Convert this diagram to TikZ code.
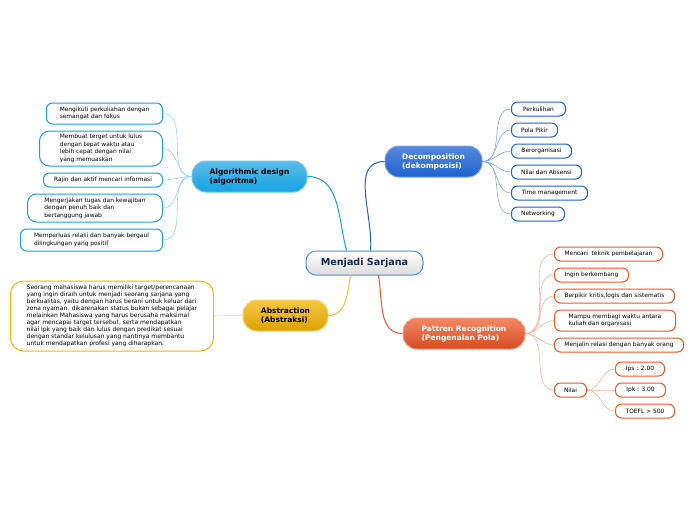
\documentclass[tikz,border=0pt]{standalone}
\usepackage{fontspec}
\setmainfont{DejaVu Sans}
\usetikzlibrary{positioning}
\definecolor{rootline}{HTML}{4A8FD8}
\definecolor{roottext}{HTML}{1B2A4E}
\definecolor{decblue}{HTML}{1E62D0}
\definecolor{algcyan}{HTML}{14A2E2}
\definecolor{absyel}{HTML}{F4B400}
\definecolor{patred}{HTML}{EE5424}
\tikzset {
    topic/.style={rounded corners=14pt, minimum height=31pt, inner xsep=14pt,
        align=left, line width=1pt, font=\fontsize{7.5}{9}\selectfont\bfseries},
    leaf/.style={draw, fill=white, line width=1pt, rounded corners=6pt,
        minimum height=14pt, inner xsep=9pt, inner ysep=2.5pt, align=left,
        font=\fontsize{5.9}{7.6}\selectfont},
    link/.style={line width=0.6pt}
}

\begin{document}
\begin{tikzpicture}[x=1pt, y=1pt]
    \useasboundingbox (0,0) rectangle (696,-520);

    % central topic
    \node[draw=rootline, line width=1pt, rounded corners=10pt, top color=white,
        bottom color=gray!28, minimum width=117pt, minimum height=24pt,
        text=roottext, font=\fontsize{9.6}{11}\selectfont\bfseries] (root) at (364.5,-263) {Menjadi Sarjana};

    % main topics
    \node[topic, draw=decblue!60!white, top color=decblue!75!white, bottom color=decblue,
        text=white, minimum width=97pt] (dec) at (433.5,-161.5) {Decomposition\\(dekomposisi)};
    \node[topic, draw=algcyan!60!white, top color=algcyan!70!white, bottom color=algcyan,
        minimum width=115pt] (alg) at (249.5,-176.5) {Algorithmic design\\(algoritma)};
    \node[topic, draw=absyel!60!white, top color=absyel!75!white, bottom color=absyel!90!black,
        minimum width=85pt] (abs) at (285.5,-315.5) {Abstraction\\(Abstraksi)};
    \node[topic, draw=patred!60!white, top color=patred!70!white, bottom color=patred!90!black,
        text=white, minimum width=122pt] (pat) at (464,-333.5) {Pattren Recognition\\(Pengenalan Pola)};

    % decomposition
    \node[leaf, draw=decblue, anchor=west, minimum width=54pt] (d1) at (511,-109) {Perkulihan};
    \node[leaf, draw=decblue, anchor=west, minimum width=46pt] (d2) at (511,-130) {Pola Pikir};
    \node[leaf, draw=decblue, anchor=west, minimum width=60pt] (d3) at (511,-151) {Berorganisasi};
    \node[leaf, draw=decblue, anchor=west, minimum width=70pt] (d4) at (511,-172) {Nilai dan Absensi};
    \node[leaf, draw=decblue, anchor=west, minimum width=76pt] (d5) at (511,-193) {Time management};
    \node[leaf, draw=decblue, anchor=west, minimum width=53pt] (d6) at (511,-214) {Networking};

    % algorithmic design
    \node[leaf, draw=algcyan, anchor=east, minimum width=116pt, minimum height=21pt] (a1) at (163,-113.5)
        {Mengikuti perkuliahan dengan\\semangat dan fokus};
    \node[leaf, draw=algcyan, anchor=east, minimum width=123pt, minimum height=35pt, rounded corners=10pt] (a2) at (163,-148.5)
        {Membuat terget untuk lulus\\dengan tepat waktu atau\\lebih cepat dengan nilai\\yang memuaskan};
    \node[leaf, draw=algcyan, anchor=east, minimum width=119pt] (a3) at (163,-180)
        {Rajin dan aktif mencari informasi};
    \node[leaf, draw=algcyan, anchor=east, minimum width=135pt, minimum height=28pt, rounded corners=9pt] (a4) at (163,-208)
        {Mengerjakan tugas dan kewajiban\\dengan penuh baik dan\\bertanggung jawab};
    \node[leaf, draw=algcyan, anchor=east, minimum width=142pt, minimum height=22pt] (a5) at (163,-240)
        {Memperluas relasi dan banyak bergaul\\dilingkungan yang positif};

    % abstraction
    \node[leaf, draw=absyel, anchor=east, minimum width=203pt, minimum height=70pt,
        rounded corners=13pt, font=\fontsize{6}{6.95}\selectfont] (b1) at (214,-316)
        {Seorang mahasiswa harus memiliki target/perencanaan\\
         yang ingin diraih untuk menjadi seorang sarjana yang\\
         berkualitas, yaitu dengan harus berani untuk keluar dari\\
         zona nyaman. dikarenakan status bukan sebagai pelajar\\
         melainkan Mahasiswa yang harus berusaha maksimal\\
         agar mencapai target tersebut, serta mendapatkan\\
         nilai Ipk yang baik dan lulus dengan predikat sesuai\\
         dengan standar kelulusan yang nantinya membantu\\
         untuk mendapatkan profesi yang diharapkan.};

    % pattern recognition
    \node[leaf, draw=patred, anchor=west, minimum width=108pt] (p1) at (554,-254) {Mencari~ teknik pembelajaran};
    \node[leaf, draw=patred, anchor=west, minimum width=74pt] (p2) at (554,-275) {Ingin berkembang};
    \node[leaf, draw=patred, anchor=west, minimum width=120pt] (p3) at (554,-296) {Berpikir kritis,logis dan sistematis};
    \node[leaf, draw=patred, anchor=west, minimum width=121pt, minimum height=21pt] (p4) at (554,-320.5)
        {Mampu membagi waktu antara\\kuliah dan organisasi};
    \node[leaf, draw=patred, anchor=west, minimum width=129pt] (p5) at (554,-345) {Menjalin relasi dengan banyak orang};
    \node[leaf, draw=patred, anchor=west, minimum width=32pt] (p6) at (554,-390) {Nilai};
    \node[leaf, draw=patred, anchor=west, minimum width=49pt] (n1) at (615,-369) {Ips : 2.00};
    \node[leaf, draw=patred, anchor=west, minimum width=50pt] (n2) at (615,-390) {Ipk : 3.00};
    \node[leaf, draw=patred, anchor=west, minimum width=59pt] (n3) at (615,-411) {TOEFL \textgreater{} 500};

    % main connectors
    \draw[link, line width=1pt, algcyan] ([xshift=-18pt]root.north) to[out=105, in=0] (alg.east);
    \draw[link, line width=1pt, decblue] ([xshift=6pt]root.north) to[out=85, in=180] (dec.west);
    \draw[link, line width=1pt, absyel!80!white] ([xshift=-14pt]root.south) to[out=-100, in=0] (abs.east);
    \draw[link, line width=1pt, patred] ([xshift=14pt]root.south) to[out=-80, in=180] (pat.west);

    % leaf connectors
    \foreach \i in {1,...,6}
        \draw[link, decblue!55!white] (dec.east) to[out=0, in=180] (d\i.west);
    \foreach \i in {1,...,5}
        \draw[link, algcyan!45!white] (alg.west) to[out=180, in=0] (a\i.east);
    \draw[link, absyel!50!white] (abs.west) -- (b1.east);
    \foreach \i in {1,...,6}
        \draw[link, patred!45!white] (pat.east) to[out=0, in=180] (p\i.west);
    \foreach \i in {1,2,3}
        \draw[link, patred!45!white] (p6.east) to[out=0, in=180] (n\i.west);
\end{tikzpicture}
\end{document}
